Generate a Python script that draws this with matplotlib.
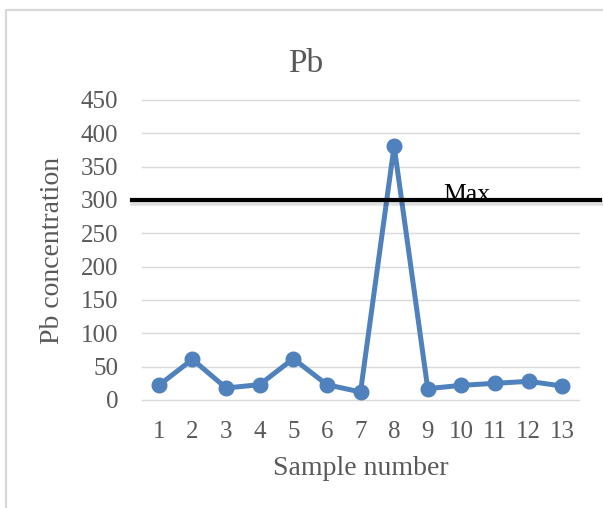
import matplotlib
matplotlib.use("Agg")
import matplotlib.pyplot as plt
import matplotlib.transforms as mtransforms
from matplotlib.patches import Rectangle

# data
samples = [1, 2, 3, 4, 5, 6, 7, 8, 9, 10, 11, 12, 13]
pb = [22, 61, 18, 23, 62, 23, 12, 381, 17, 22, 25, 28, 21]
y_ticks = [0, 50, 100, 150, 200, 250, 300, 350, 400, 450]
max_limit = 300

text_grey = "#595959"
grid_grey = "#D9D9D9"
blue = "#4F81BD"

plt.rcParams["font.family"] = ["Liberation Serif", "DejaVu Serif"]

fig = plt.figure(figsize=(6.03, 5.08), dpi=100)
ax = fig.add_axes([0.2355, 0.2126, 0.7247, 0.5906])

# outer chart frame (cut off on the right and bottom like the screenshot)
frame = Rectangle((6 / 603, -0.1), 2, 0.9803 + 0.1, transform=fig.transFigure,
                  fill=False, edgecolor=grid_grey, lw=1.6, clip_on=False)
fig.add_artist(frame)

# the series
ax.plot(samples, pb, color=blue, lw=3.6, marker="o", markersize=10.5,
        solid_joinstyle="miter", zorder=3)

ax.set_xlim(0.5, 13.5)
ax.set_ylim(0, 450)
ax.set_xticks(samples)
ax.set_yticks(y_ticks)
ax.tick_params(axis="both", length=0, labelsize=18, colors=text_grey)
ax.tick_params(axis="y", pad=17)
ax.tick_params(axis="x", pad=15)

for s in ax.spines.values():
    s.set_visible(False)
ax.grid(axis="y", color=grid_grey, lw=1.0)
ax.set_axisbelow(True)
for gl in ax.get_ygridlines():
    gl.set_clip_on(False)

# threshold line, runs past the plot area like the pasted line in the original
trans = mtransforms.blended_transform_factory(ax.transAxes, ax.transData)
shadow = mtransforms.offset_copy(trans, fig=fig, x=1, y=-3, units="dots")
ax.plot([-0.023, 1.048], [max_limit, max_limit], color="black", lw=4,
        alpha=0.12, transform=shadow, clip_on=False, zorder=4)
ax.plot([-0.023, 1.048], [max_limit, max_limit], color="black", lw=3,
        transform=trans, clip_on=False, zorder=5)
ax.text(0.689, max_limit - 1, "Max", transform=trans, fontsize=18.5, color="black",
        ha="left", va="baseline", zorder=2)

ax.set_title("Pb", fontsize=24, color=text_grey, x=0.375, y=1.0933, pad=0)

ax.set_xlabel("Sample number", fontsize=20, color=text_grey)
ax.xaxis.set_label_coords(0.5, -0.227)
ax.xaxis.label.set_va("center")
ax.set_ylabel("Pb concentration", fontsize=20, color=text_grey)
ax.yaxis.set_label_coords(-0.204, 0.5)
ax.yaxis.label.set_va("center")

fig.savefig("out.png", dpi=100)
